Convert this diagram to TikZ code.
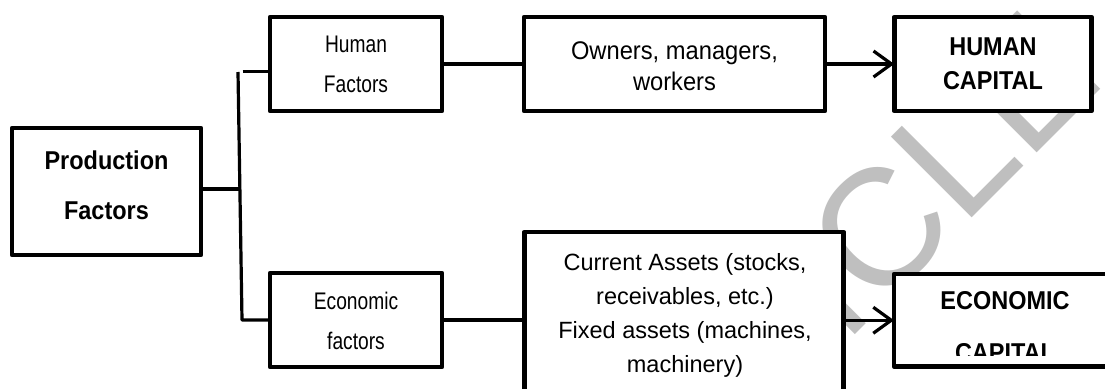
\documentclass[tikz,border=0pt]{standalone}
\usepackage{fontspec}
\setmainfont{Liberation Sans}
\newfontfamily\narrowsans[FakeStretch=0.8]{Liberation Sans}
\newfontfamily\tallsans[FakeStretch=0.91]{Liberation Sans}
\newfontfamily\plainsans[FakeStretch=0.93]{Liberation Sans}
\usetikzlibrary{arrows.meta}
\begin{document}
\begin{tikzpicture}[x=1pt,y=-1pt,
  box/.style={draw, line width=4.6pt, line join=round, fill=white, inner sep=0pt, outer sep=0pt},
  link/.style={line width=3.2pt, line join=round},
  arrowlink/.style={link, -{Straight Barb[length=18pt,width=26pt]}},
  txt/.style={inner sep=0pt, align=center, text=black},
  wmtext/.style={inner sep=0pt, text=black!25}
]
\useasboundingbox (0,0) rectangle (1105,388);
\clip (0,0) rectangle (1105,388);

% background watermark word
\node[wmtext, rotate=45, anchor=base east, font=\fontsize{166}{166}\selectfont] (wm) at (1106,84) {ARTICLE};

% boxes
\node[box, minimum width=189pt, minimum height=127pt] (pf) at (106.5,191.5) {};
\node[box, minimum width=172pt, minimum height=94pt] (hf) at (356,64) {};
\node[box, minimum width=172pt, minimum height=94pt] (ef) at (356,320) {};
\node[box, minimum width=301pt, minimum height=94pt] (ow) at (674.5,64) {};
\node[box, minimum width=197pt, minimum height=94pt] (hc) at (992.75,64) {};
\node[box, minimum width=319.5pt, minimum height=198pt] (ca) at (684,331) {};
\node[box, minimum width=226pt, minimum height=92.5pt] (ec) at (1007,320.25) {};

% texts
\node[txt, font=\tallsans\bfseries\fontsize{25.8}{50}\selectfont] (pft) at (106.5,185.6) {Production\\Factors};
\node[txt, font=\narrowsans\fontsize{24}{40}\selectfont] (hft) at (356,64.5) {Human\\Factors};
\node[txt, font=\narrowsans\fontsize{24}{40}\selectfont] (eft) at (356,321) {Economic\\factors};
\node[txt, font=\plainsans\fontsize{25.5}{31}\selectfont] (owt) at (674.5,66) {Owners, managers,\\workers};
\node[txt, font=\tallsans\bfseries\fontsize{25.8}{34}\selectfont] (hct) at (993,63.8) {HUMAN\\CAPITAL};
\node[txt, font=\fontsize{23.5}{34}\selectfont] (cat) at (685,315) {Current Assets (stocks,\\receivables, etc.)\\Fixed assets (machines,\\machinery)};
\begin{scope}
  \clip (897,277) rectangle (1105,355);
  \node[txt, font=\tallsans\bfseries\fontsize{25.8}{52}\selectfont] (ect) at (1005,326.6) {ECONOMIC\\CAPITAL};
\end{scope}

% branching connector
\coordinate (trunktop) at (238,72);
\coordinate (trunkbot) at (242,320);
\coordinate (topstub) at (242.5,71.5);
\coordinate (pfjoin) at (239.5,189);
\draw[link] (pfjoin -| pf.east) -- (pfjoin);
\draw[link] (trunktop) -- (trunkbot) -- (ef.west);
\draw[link] (topstub) -- (topstub -| hf.west);

% chains
\draw[link] (hf.east) -- (ow.west);
\draw[arrowlink] (ow.east) -- (hc.west);
\draw[link] (ef.east) -- (ef.east -| ca.west);
\draw[arrowlink] (ca.east |- ec.west) -- (ec.west);
\end{tikzpicture}
\end{document}
